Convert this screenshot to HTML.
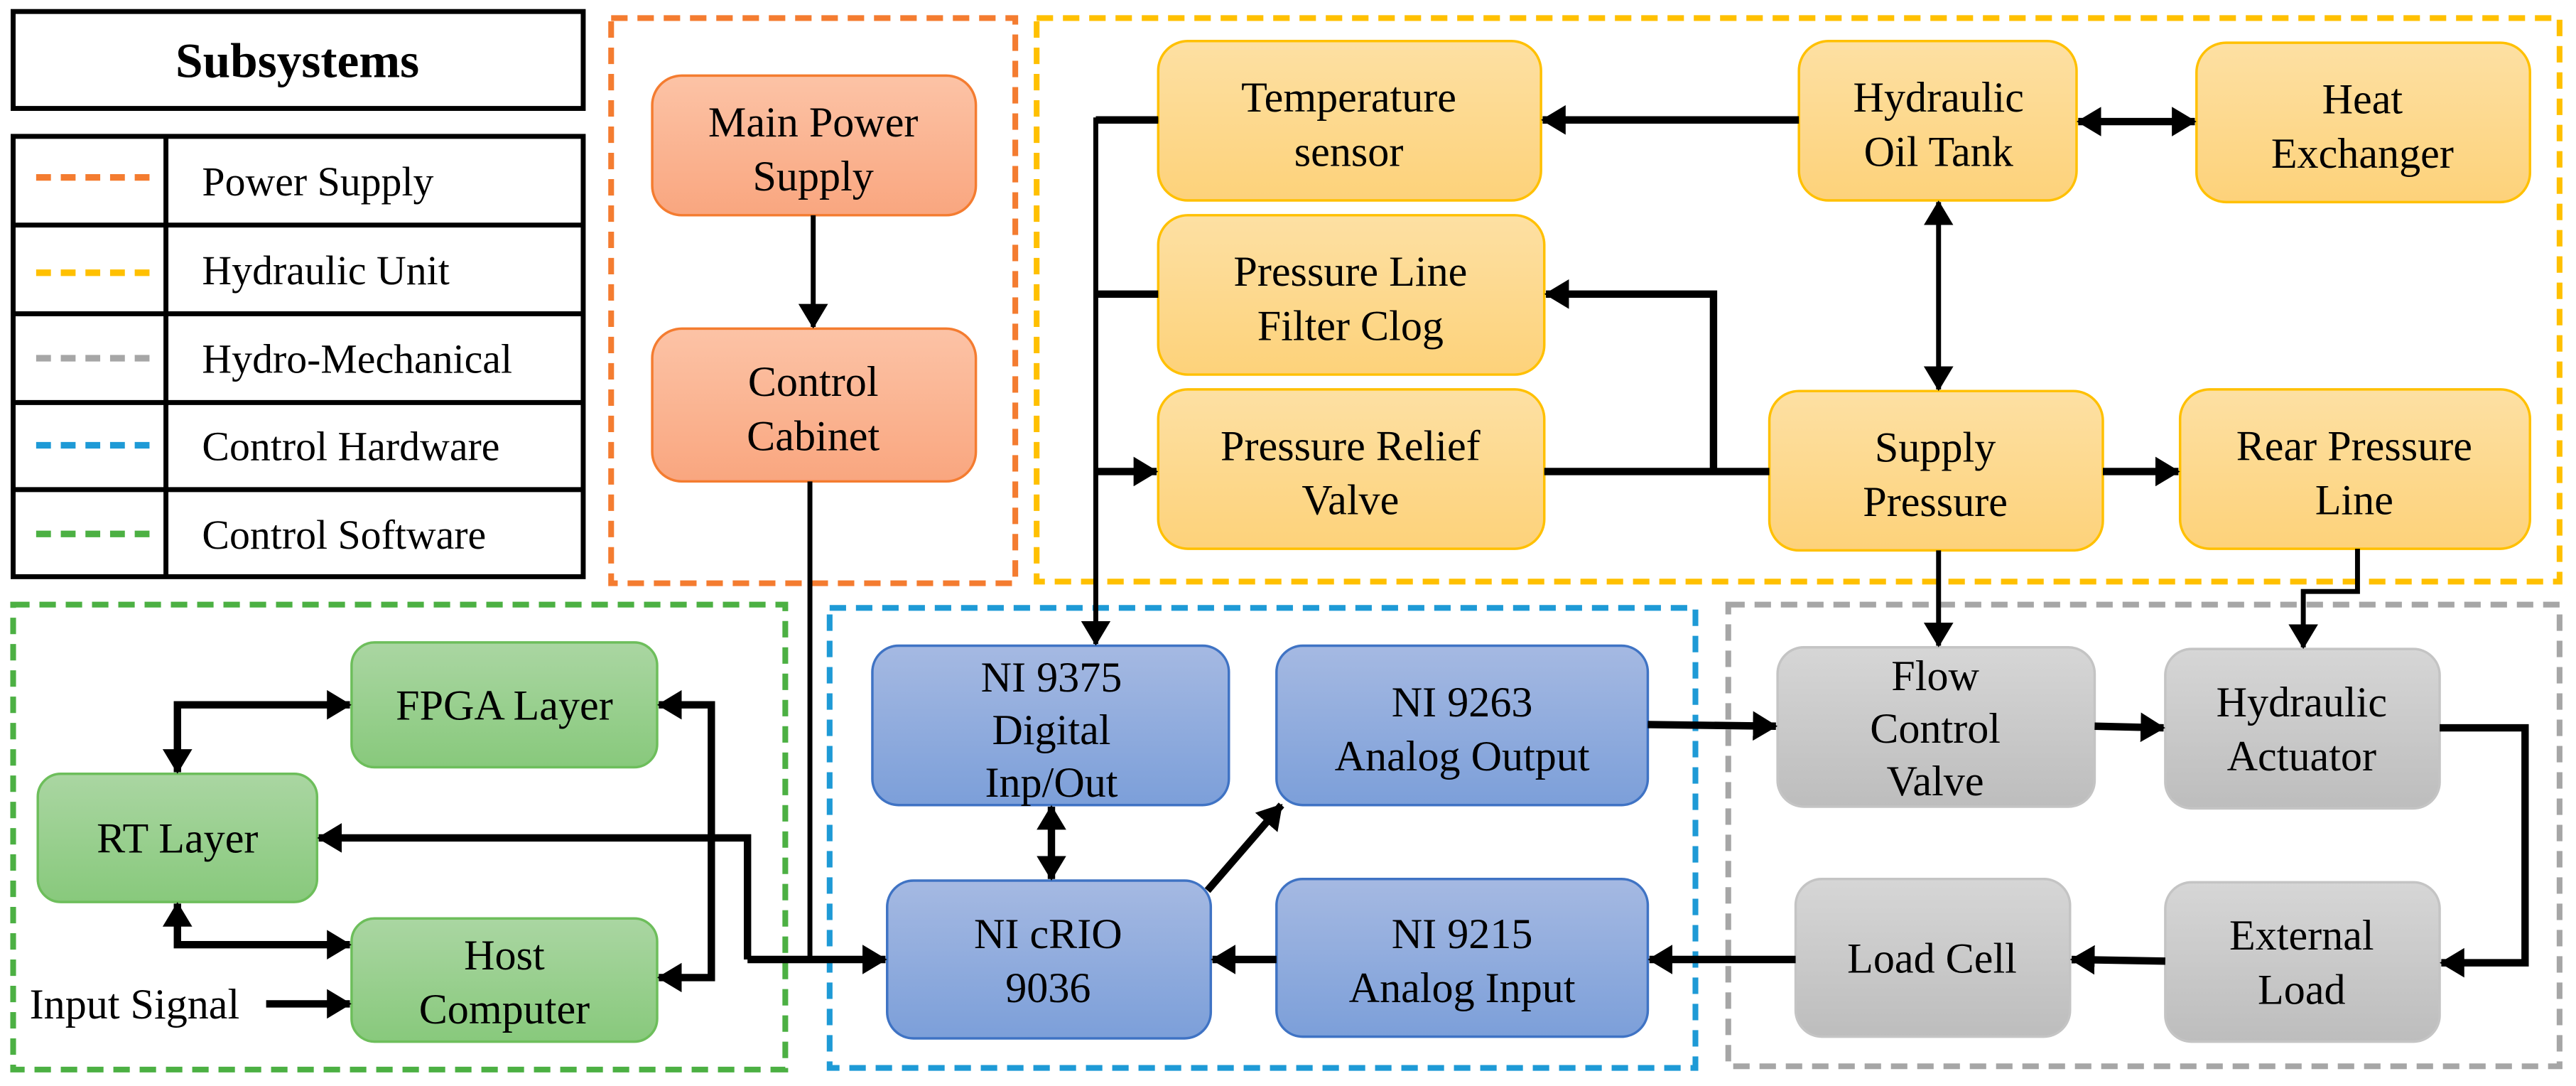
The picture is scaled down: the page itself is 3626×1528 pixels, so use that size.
<!DOCTYPE html>
<html><head><meta charset="utf-8">
<style>
html,body{margin:0;padding:0;background:#fff;}
svg{display:block;}
text{font-family:"Liberation Serif",serif;fill:#000;}
</style></head>
<body>
<svg width="3626" height="1528" viewBox="0 0 1568 661" preserveAspectRatio="none" xmlns="http://www.w3.org/2000/svg">
<defs>
<marker id="a" markerUnits="userSpaceOnUse" markerWidth="16" markerHeight="18" refX="14" refY="9" orient="auto-start-reverse"><path d="M0,0 L15,9 L0,18 Z" fill="#000"/></marker>
<linearGradient id="go" x1="0" y1="0" x2="0" y2="1"><stop offset="0" stop-color="#FCC3A6"/><stop offset="1" stop-color="#F9A67F"/></linearGradient>
<linearGradient id="gy" x1="0" y1="0" x2="0" y2="1"><stop offset="0" stop-color="#FDE0A3"/><stop offset="1" stop-color="#FDD27A"/></linearGradient>
<linearGradient id="gg" x1="0" y1="0" x2="0" y2="1"><stop offset="0" stop-color="#AAD6A2"/><stop offset="1" stop-color="#88C97C"/></linearGradient>
<linearGradient id="gb" x1="0" y1="0" x2="0" y2="1"><stop offset="0" stop-color="#A5B9E2"/><stop offset="1" stop-color="#7C9FD9"/></linearGradient>
<linearGradient id="gr" x1="0" y1="0" x2="0" y2="1"><stop offset="0" stop-color="#D6D6D6"/><stop offset="1" stop-color="#BDBDBD"/></linearGradient>
</defs>

<!-- Legend -->
<rect x="8" y="7" width="347" height="59" fill="#fff" stroke="#000" stroke-width="3"/>
<text x="181" y="47" font-size="30" font-weight="bold" text-anchor="middle">Subsystems</text>
<rect x="8" y="83" width="347" height="268" fill="#fff" stroke="#000" stroke-width="3"/>
<g stroke="#000" stroke-width="3">
<line x1="8" y1="137" x2="355" y2="137"/><line x1="8" y1="191" x2="355" y2="191"/>
<line x1="8" y1="245" x2="355" y2="245"/><line x1="8" y1="298" x2="355" y2="298"/>
<line x1="101" y1="83" x2="101" y2="351"/>
</g>
<g stroke-width="4" stroke-dasharray="9,6">
<line x1="22" y1="108" x2="92" y2="108" stroke="#F47C30"/>
<line x1="22" y1="166" x2="92" y2="166" stroke="#FFC000"/>
<line x1="22" y1="218" x2="92" y2="218" stroke="#A6A6A6"/>
<line x1="22" y1="271" x2="92" y2="271" stroke="#1E9AD6"/>
<line x1="22" y1="325" x2="92" y2="325" stroke="#4CB043"/>
</g>
<g font-size="25">
<text x="123" y="119">Power Supply</text>
<text x="123" y="173">Hydraulic Unit</text>
<text x="123" y="227">Hydro-Mechanical</text>
<text x="123" y="280">Control Hardware</text>
<text x="123" y="334">Control Software</text>
</g>

<!-- Subsystem boxes -->
<g fill="none" stroke-width="3.5" stroke-dasharray="10,6">
<rect x="372" y="11" width="246" height="344" stroke="#F47C30"/>
<rect x="631" y="11" width="927" height="343" stroke="#FFC000"/>
<rect x="8" y="368" width="470" height="283" stroke="#4CB043"/>
<rect x="505" y="370" width="527" height="280" stroke="#1E9AD6"/>
<rect x="1052" y="368" width="506" height="281" stroke="#A6A6A6"/>
</g>

<!-- Nodes -->
<g stroke-width="1.5">
<rect x="397" y="46" width="197" height="85" rx="18" fill="url(#go)" stroke="#F47C30"/>
<rect x="397" y="200" width="197" height="93" rx="18" fill="url(#go)" stroke="#F47C30"/>

<rect x="705" y="25" width="233" height="97" rx="18" fill="url(#gy)" stroke="#FFC000"/>
<rect x="1095" y="25" width="169" height="97" rx="18" fill="url(#gy)" stroke="#FFC000"/>
<rect x="1337" y="26" width="203" height="97" rx="18" fill="url(#gy)" stroke="#FFC000"/>
<rect x="705" y="131" width="235" height="97" rx="18" fill="url(#gy)" stroke="#FFC000"/>
<rect x="705" y="237" width="235" height="97" rx="18" fill="url(#gy)" stroke="#FFC000"/>
<rect x="1077" y="238" width="203" height="97" rx="18" fill="url(#gy)" stroke="#FFC000"/>
<rect x="1327" y="237" width="213" height="97" rx="18" fill="url(#gy)" stroke="#FFC000"/>

<rect x="214" y="391" width="186" height="76" rx="14" fill="url(#gg)" stroke="#6DBE5B"/>
<rect x="23" y="471" width="170" height="78" rx="14" fill="url(#gg)" stroke="#6DBE5B"/>
<rect x="214" y="559" width="186" height="75" rx="14" fill="url(#gg)" stroke="#6DBE5B"/>

<rect x="531" y="393" width="217" height="97" rx="16" fill="url(#gb)" stroke="#3F73C4"/>
<rect x="777" y="393" width="226" height="97" rx="16" fill="url(#gb)" stroke="#3F73C4"/>
<rect x="540" y="536" width="197" height="96" rx="16" fill="url(#gb)" stroke="#3F73C4"/>
<rect x="777" y="535" width="226" height="96" rx="16" fill="url(#gb)" stroke="#3F73C4"/>

<rect x="1082" y="394" width="193" height="97" rx="16" fill="url(#gr)" stroke="#C4C4C4"/>
<rect x="1318" y="395" width="167" height="97" rx="16" fill="url(#gr)" stroke="#C4C4C4"/>
<rect x="1093" y="535" width="167" height="96" rx="16" fill="url(#gr)" stroke="#C4C4C4"/>
<rect x="1318" y="537" width="167" height="97" rx="16" fill="url(#gr)" stroke="#C4C4C4"/>
</g>

<!-- Labels -->
<g font-size="26" text-anchor="middle">
<text x="495" y="83">Main Power</text><text x="495" y="116">Supply</text>
<text x="495" y="241">Control</text><text x="495" y="274">Cabinet</text>
<text x="821" y="68">Temperature</text><text x="821" y="101">sensor</text>
<text x="1180" y="68">Hydraulic</text><text x="1180" y="101">Oil Tank</text>
<text x="1438" y="69">Heat</text><text x="1438" y="102">Exchanger</text>
<text x="822" y="174">Pressure Line</text><text x="822" y="207">Filter Clog</text>
<text x="822" y="280">Pressure Relief</text><text x="822" y="313">Valve</text>
<text x="1178" y="281">Supply</text><text x="1178" y="314">Pressure</text>
<text x="1433" y="280">Rear Pressure</text><text x="1433" y="313">Line</text>

<text x="307" y="438">FPGA Layer</text>
<text x="108" y="519">RT Layer</text>
<text x="307" y="590">Host</text><text x="307" y="623">Computer</text>

<text x="640" y="421">NI 9375</text><text x="640" y="453">Digital</text><text x="640" y="485">Inp/Out</text>
<text x="890" y="436">NI 9263</text><text x="890" y="469">Analog Output</text>
<text x="638" y="577">NI cRIO</text><text x="638" y="610">9036</text>
<text x="890" y="577">NI 9215</text><text x="890" y="610">Analog Input</text>

<text x="1178" y="420">Flow</text><text x="1178" y="452">Control</text><text x="1178" y="484">Valve</text>
<text x="1401" y="436">Hydraulic</text><text x="1401" y="469">Actuator</text>
<text x="1176" y="592">Load Cell</text>
<text x="1401" y="578">External</text><text x="1401" y="611">Load</text>
</g>
<text x="18" y="620" font-size="26">Input Signal</text>

<!-- Connectors -->
<g stroke="#000" fill="none" stroke-width="4.5">
<line x1="1095" y1="73" x2="939" y2="73" marker-end="url(#a)"/>
<line x1="1265" y1="74" x2="1336" y2="74" marker-start="url(#a)" marker-end="url(#a)"/>
<line x1="940" y1="287" x2="1077" y2="287"/>
<polyline points="1043,287 1043,179 941,179" marker-end="url(#a)"/>
<line x1="1280" y1="287" x2="1326" y2="287" marker-end="url(#a)"/>
<polyline points="667,73 705,73" />
<polyline points="667,179 705,179" />
<line x1="667" y1="287" x2="704" y2="287" marker-end="url(#a)"/>

<polyline points="108,470 108,429 213,429" marker-start="url(#a)" marker-end="url(#a)"/>
<polyline points="108,550 108,575 213,575" marker-start="url(#a)" marker-end="url(#a)"/>
<line x1="162" y1="611" x2="213" y2="611" marker-end="url(#a)"/>
<polyline points="401,429 433,429 433,595 401,595" marker-start="url(#a)" marker-end="url(#a)"/>
<polyline points="455,584 455,510 194,510" marker-end="url(#a)"/>
<polyline points="455,584 539,584" marker-end="url(#a)"/>

<line x1="640" y1="491" x2="640" y2="535" marker-start="url(#a)" marker-end="url(#a)"/>
<line x1="735" y1="542" x2="780" y2="490" marker-end="url(#a)"/>
<line x1="777" y1="584" x2="738" y2="584" marker-end="url(#a)"/>
<line x1="1003" y1="441" x2="1081" y2="442" marker-end="url(#a)"/>

<line x1="1275" y1="442" x2="1317" y2="443" marker-end="url(#a)"/>
<polyline points="1485,443 1537,443 1537,586 1486,586" marker-end="url(#a)"/>
<line x1="1318" y1="585" x2="1261" y2="584" marker-end="url(#a)"/>
<line x1="1093" y1="584" x2="1004" y2="584" marker-end="url(#a)"/>
</g>
<g stroke="#000" fill="none" stroke-width="3">
<line x1="495" y1="131" x2="495" y2="199" marker-end="url(#a)"/>
<line x1="493" y1="293" x2="493" y2="584"/>
<polyline points="705,73 667,73 667,392" marker-end="url(#a)"/>
<line x1="1180" y1="123" x2="1180" y2="237" marker-start="url(#a)" marker-end="url(#a)"/>
<line x1="1180" y1="335" x2="1180" y2="393" marker-end="url(#a)"/>
<polyline points="1435,334 1435,360 1402,360 1402,394" marker-end="url(#a)"/>
</g>
</svg>
</body></html>
